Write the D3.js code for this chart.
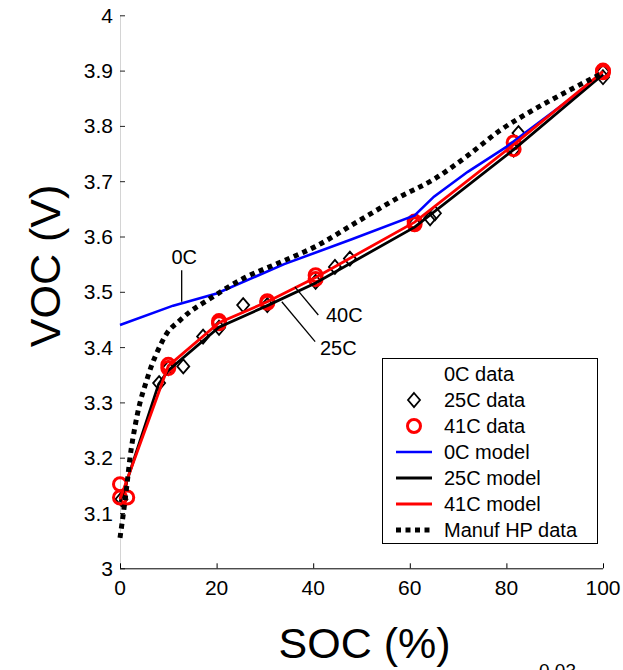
<!DOCTYPE html>
<html>
<head>
<meta charset="utf-8">
<script src="https://cdn.jsdelivr.net/npm/d3@7"></script>
<style>
  html, body { margin: 0; padding: 0; background: #fff; }
  svg { display: block; font-family: Arial, "Liberation Sans", sans-serif; }
</style>
</head>
<body>
<div id="chart"></div>
<script>
// SOC (%) vs VOC (V)
const xTicks = [0, 20, 40, 60, 80, 100];
const yTicks = [3, 3.1, 3.2, 3.3, 3.4, 3.5, 3.6, 3.7, 3.8, 3.9, 4];

const data25C = [
  [0.3, 3.125], [8.1, 3.335], [10, 3.362], [13.1, 3.365], [17.2, 3.419],
  [20.5, 3.435], [25.5, 3.476], [30.5, 3.476], [40.5, 3.518], [44.5, 3.545],
  [47.6, 3.56], [61, 3.623], [64.2, 3.633], [65.2, 3.642], [81.5, 3.757],
  [82.5, 3.787], [100, 3.888], [100, 3.898]
];
const data41C = [
  [0, 3.152], [0, 3.128], [1.5, 3.128], [10, 3.362], [10, 3.368],
  [20.5, 3.443], [20.5, 3.447], [30.5, 3.48], [30.5, 3.483], [40.5, 3.523],
  [40.5, 3.53], [61, 3.622], [61, 3.627], [81.5, 3.77], [81.5, 3.758],
  [100, 3.897], [100, 3.9]
];
const model0C = [
  [0, 3.44], [11, 3.475], [20, 3.497], [34, 3.55], [48, 3.595], [61, 3.638],
  [65, 3.672], [72, 3.717], [80, 3.762], [100, 3.893]
];
const model25C = [
  [0, 3.12], [8, 3.333], [10, 3.358], [20.5, 3.436], [30.5, 3.475],
  [40.5, 3.516], [61, 3.617], [81.5, 3.757], [100, 3.893]
];
const model41C = [
  [0, 3.125], [10, 3.366], [20.5, 3.444], [30.5, 3.482], [40.5, 3.526],
  [61, 3.626], [81.5, 3.766], [100, 3.898]
];
const manufHP = [
  [0, 3.055], [0.6, 3.093], [1.4, 3.148], [2.1, 3.202], [3.1, 3.256],
  [4.1, 3.298], [5.2, 3.331], [6.6, 3.368], [7.9, 3.395], [9.7, 3.425],
  [12.1, 3.446], [14.5, 3.464], [18, 3.484], [25.5, 3.524], [32.8, 3.552],
  [40.7, 3.583], [49, 3.626], [58, 3.672], [64.9, 3.703], [71.8, 3.745],
  [78.7, 3.792], [85.6, 3.829], [92.5, 3.862], [100, 3.896]
];

const legendLabels = ['0C data', '25C data', '41C data', '0C model', '25C model', '41C model', 'Manuf HP data'];
const annotations = [
  { label: '0C', line: [[12.77, 3.539], [12.77, 3.482]], at: [10.66, 3.55] },
  { label: '40C', line: [[36.2, 3.509], [41.06, 3.458]], at: [42.65, 3.445] },
  { label: '25C', line: [[33.5, 3.482], [40.4, 3.41]], at: [41.4, 3.386] }
];

const width = 623;
const height = 670;
const x = d3.scaleLinear().domain([0, 100]).range([120, 603]);
const y = d3.scaleLinear().domain([3, 4]).range([568.3, 15.3]);

const svg = d3.select('#chart').append('svg')
  .attr('width', width)
  .attr('height', height);

svg.append('rect').attr('width', width).attr('height', height).attr('fill', '#fff');

// axes
const yAxis = svg.append('g').attr('transform', `translate(${x(0)},0)`)
  .call(d3.axisRight(y).tickValues(yTicks).tickSize(5).tickFormat(''));
yAxis.select('.domain').attr('stroke', '#d4d4d4').attr('d', `M0.5,${y(3)}V${y(4)}`);
yAxis.selectAll('.tick line').attr('stroke', '#222');

svg.append('g').selectAll('text')
  .data(yTicks)
  .join('text')
  .attr('x', 113)
  .attr('y', d => y(d))
  .attr('dy', '0.36em')
  .attr('text-anchor', 'end')
  .attr('font-size', 21)
  .text(d => d3.format('')(d));

const xAxis = svg.append('g').attr('transform', `translate(0,${y(3)})`)
  .call(d3.axisTop(x).tickValues(xTicks).tickSize(5).tickFormat(''));
xAxis.select('.domain').attr('stroke', '#000').attr('d', `M${x(0)},0.5H${x(100)}`);
xAxis.selectAll('.tick line').attr('stroke', '#000');

svg.append('g').selectAll('text')
  .data(xTicks)
  .join('text')
  .attr('x', d => x(d))
  .attr('y', 595)
  .attr('text-anchor', 'middle')
  .attr('font-size', 21)
  .text(d => d);

svg.append('text')
  .attr('x', (x(0) + x(100)) / 2 + 3)
  .attr('y', 658)
  .attr('text-anchor', 'middle')
  .attr('font-size', 43)
  .text('SOC (%)');

svg.append('text')
  .attr('transform', 'translate(60,266) rotate(-90)')
  .attr('text-anchor', 'middle')
  .attr('font-size', 43)
  .text('VOC (V)');

// partly visible text at the bottom edge, as in the source
svg.append('text')
  .attr('x', 539)
  .attr('y', 676.5)
  .attr('font-size', 19)
  .text('0.03');

// markers
const diamond = (cx, cy) => `M${cx},${cy - 7}L${cx + 6},${cy}L${cx},${cy + 7}L${cx - 6},${cy}Z`;

svg.append('g').selectAll('path')
  .data(data25C)
  .join('path')
  .attr('d', d => diamond(x(d[0]), y(d[1])))
  .attr('fill', 'none')
  .attr('stroke', '#000')
  .attr('stroke-width', 1.8);

svg.append('g').selectAll('circle')
  .data(data41C)
  .join('circle')
  .attr('cx', d => x(d[0]))
  .attr('cy', d => y(d[1]))
  .attr('r', 6.5)
  .attr('fill', 'none')
  .attr('stroke', '#f00')
  .attr('stroke-width', 3);

// model lines
const line = d3.line().x(d => x(d[0])).y(d => y(d[1]));
const series = [
  { values: model0C, color: '#0000ff', width: 2.6 },
  { values: model25C, color: '#000', width: 2.8 },
  { values: model41C, color: '#f00', width: 2.8 }
];
svg.append('g').selectAll('path')
  .data(series)
  .join('path')
  .attr('d', d => line(d.values))
  .attr('fill', 'none')
  .attr('stroke', d => d.color)
  .attr('stroke-width', d => d.width);

svg.append('path')
  .attr('d', d3.line().curve(d3.curveMonotoneX).x(d => x(d[0])).y(d => y(d[1]))(manufHP))
  .attr('fill', 'none')
  .attr('stroke', '#000')
  .attr('stroke-width', 5)
  .attr('stroke-dasharray', '5 4.5');

// annotations
const notes = svg.append('g');
annotations.forEach(a => {
  notes.append('line')
    .attr('x1', x(a.line[0][0])).attr('y1', y(a.line[0][1]))
    .attr('x2', x(a.line[1][0])).attr('y2', y(a.line[1][1]))
    .attr('stroke', '#000')
    .attr('stroke-width', 1.3);
  notes.append('text')
    .attr('x', x(a.at[0]))
    .attr('y', y(a.at[1]))
    .attr('font-size', 20)
    .text(a.label);
});

// legend
const legend = svg.append('g');
legend.append('rect')
  .attr('x', 382.5).attr('y', 358.5)
  .attr('width', 215).attr('height', 185)
  .attr('fill', '#fff')
  .attr('stroke', '#000')
  .attr('stroke-width', 1);

const rows = legend.selectAll('g.row')
  .data(legendLabels)
  .join('g')
  .attr('class', 'row')
  .attr('transform', (d, i) => `translate(0,${374 + i * 26})`);

rows.append('text')
  .attr('x', 444)
  .attr('y', 7)
  .attr('font-size', 20)
  .text(d => d);

rows.filter((d, i) => i === 1).append('path')
  .attr('d', diamond(414, 0))
  .attr('fill', 'none').attr('stroke', '#000').attr('stroke-width', 1.8);
rows.filter((d, i) => i === 2).append('circle')
  .attr('cx', 414).attr('cy', 0).attr('r', 6.5)
  .attr('fill', 'none').attr('stroke', '#f00').attr('stroke-width', 3);

const legendLines = [null, null, null,
  { color: '#0000ff', width: 2.6 },
  { color: '#000', width: 2.8 },
  { color: '#f00', width: 2.8 },
  { color: '#000', width: 5, dash: '5 4.5' }];
rows.filter((d, i) => legendLines[i]).append('line')
  .attr('x1', 396).attr('x2', 432)
  .attr('y1', 0).attr('y2', 0)
  .attr('stroke', d => legendLines[legendLabels.indexOf(d)].color)
  .attr('stroke-width', d => legendLines[legendLabels.indexOf(d)].width)
  .attr('stroke-dasharray', d => legendLines[legendLabels.indexOf(d)].dash || null);
</script>
</body>
</html>
